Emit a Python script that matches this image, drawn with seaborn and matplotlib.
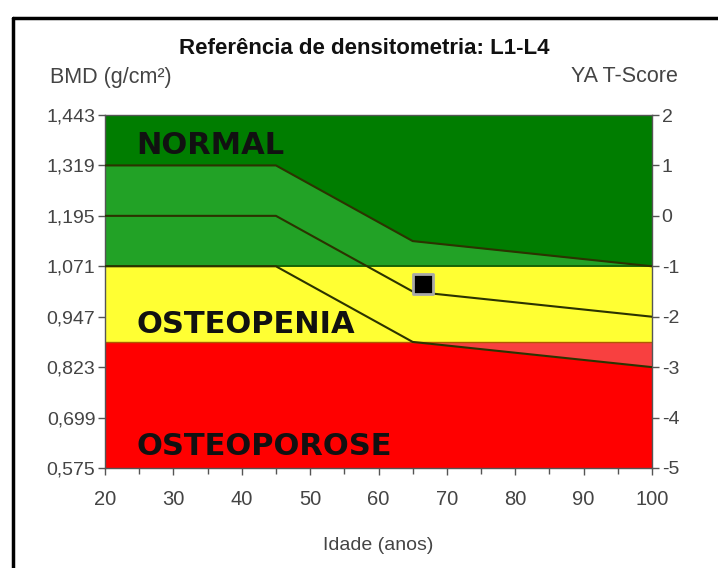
import numpy as np
import pandas as pd
import matplotlib
matplotlib.use("Agg")
import matplotlib.pyplot as plt
import seaborn as sns
from matplotlib.lines import Line2D

# ---- data ----
ages = [20, 45, 65, 100]
curve_upper = [1.319, 1.319, 1.133, 1.071]
curve_mid = [1.195, 1.195, 1.009, 0.947]
curve_lower = [1.071, 1.071, 0.885, 0.823]
bmd_ticks = [0.575, 0.699, 0.823, 0.947, 1.071, 1.195, 1.319, 1.443]
bmd_labels = ["0,575", "0,699", "0,823", "0,947", "1,071", "1,195", "1,319", "1,443"]
tscore_ticks = [-5, -4, -3, -2, -1, 0, 1, 2]
age_ticks = [20, 30, 40, 50, 60, 70, 80, 90, 100]
normal_lim = 1.071
osteopenia_lim = 0.885
patient_age = [66.5]
patient_bmd = [1.028]

sns.set_theme(style="white")
plt.rcParams['font.family'] = ['Liberation Sans', 'DejaVu Sans']

fig = plt.figure(figsize=(7.18, 5.68), dpi=100)
ax = fig.add_axes([105/718, 1-468/568, (652-105)/718, (468-115)/568])

x = np.array(ages, dtype=float)
up = np.array(curve_upper)
lo = np.array(curve_lower)
ymin, ymax = bmd_ticks[0], bmd_ticks[-1]

# zones
ax.fill_between(x, normal_lim, ymax, color="#007d00", lw=0, zorder=0)
ax.fill_between(x, normal_lim, up, color="#22a226", lw=0, zorder=1)
ax.fill_between(x, osteopenia_lim, normal_lim, color="#ffff33", lw=0, zorder=0)
ax.fill_between(x, ymin, osteopenia_lim, color="#ff0000", lw=0, zorder=0)
ax.fill_between(x, np.minimum(lo, osteopenia_lim), osteopenia_lim, color="#f84040", lw=0, zorder=1)

ax.axhline(normal_lim, color="#145a00", lw=1.2, zorder=2)
ax.axhline(osteopenia_lim, color="#b05a00", lw=1.0, zorder=2)

df = pd.DataFrame({"age": ages * 3,
                   "bmd": curve_upper + curve_mid + curve_lower,
                   "curve": ["up"] * 4 + ["mid"] * 4 + ["lo"] * 4})
sns.lineplot(data=df, x="age", y="bmd", units="curve", estimator=None,
             color="#2b3300", lw=1.5, ax=ax, zorder=3)

sns.scatterplot(x=patient_age, y=patient_bmd, marker="s", s=190, color="black",
                edgecolor="#a8a8a8", linewidth=2, ax=ax, zorder=5)

ax.set_xlim(20, 100)
ax.set_ylim(ymin, ymax)
ax.set_yticks(bmd_ticks)
ax.set_yticklabels(bmd_labels)
ax.set_xticks(age_ticks)
ax.set_xticks(np.arange(25, 100, 10), minor=True)
ax.set_xlabel("Idade (anos)", fontsize=14, color="#444444", labelpad=20)
ax.set_ylabel("")
ax.tick_params(axis="y", which="major", direction="out", length=5, width=1,
               color="#555555", labelsize=14, labelcolor="#444444", pad=2,
               left=True)
ax.tick_params(axis="x", which="major", direction="out", length=5, width=1,
               color="#555555", labelsize=14.5, labelcolor="#444444", pad=11,
               bottom=True)
ax.tick_params(axis="x", which="minor", direction="out", length=4, width=1,
               color="#555555", bottom=True)
for s in ax.spines.values():
    s.set_color("#555555")
    s.set_linewidth(1)

ax2 = ax.twinx()
ax2.set_ylim(-5, 2)
ax2.set_yticks(tscore_ticks)
ax2.set_yticklabels([str(t) for t in tscore_ticks])
ax2.tick_params(axis="y", direction="out", length=5, width=1, color="#555555",
                labelsize=14, labelcolor="#444444", pad=2, right=True)
for s in ax2.spines.values():
    s.set_visible(False)

# zone labels
lab_kw = dict(fontsize=22, fontweight="heavy", color="#111111", ha="left",
              va="center", family=["DejaVu Sans"], zorder=6)
ax.text(24.6, 1.369, "NORMAL", **lab_kw)
ax.text(24.6, 0.929, "OSTEOPENIA", **lab_kw)
ax.text(24.6, 0.629, "OSTEOPOROSE", **lab_kw)

fig.text(0.508, 1-49/568, "Referência de densitometria: L1-L4", ha="center",
         va="center", fontsize=16, fontweight="bold", color="#111111")
fig.text(50/718, 1-77/568, "BMD (g/cm²)", ha="left", va="center",
         fontsize=15.5, color="#444444")
fig.text(678/718, 1-77/568, "YA T-Score", ha="right", va="center",
         fontsize=15.5, color="#444444")

# outer frame (left and top)
fig.add_artist(Line2D([13/718, 13/718], [0, 1-18/568], color="black", lw=2.5,
                      transform=fig.transFigure))
fig.add_artist(Line2D([13/718, 1], [1-18/568, 1-18/568], color="black", lw=2.5,
                      transform=fig.transFigure))

fig.savefig("out.png", dpi=100)
